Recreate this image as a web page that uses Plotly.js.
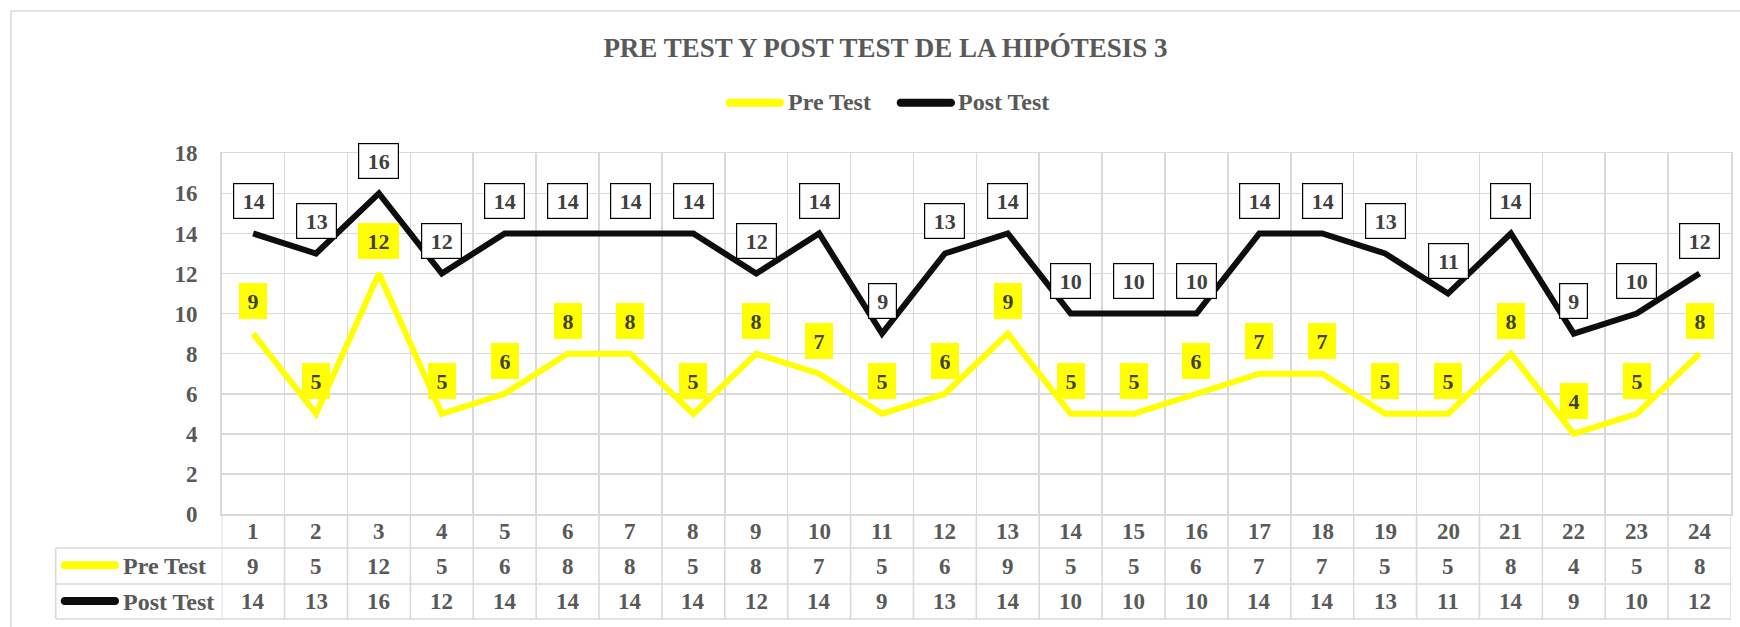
<!DOCTYPE html>
<html>
<head>
<meta charset="utf-8">
<script src="https://cdn.plot.ly/plotly-3.0.1.min.js"></script>
<style>html,body{margin:0;padding:0;background:#fff;}#chart{width:1740px;height:627px;}</style>
</head>
<body>
<div id="chart"></div>
<script>
// ---- data ----
const categories = [1,2,3,4,5,6,7,8,9,10,11,12,13,14,15,16,17,18,19,20,21,22,23,24];
const preTest  = [9,5,12,5,6,8,8,5,8,7,5,6,9,5,5,6,7,7,5,5,8,4,5,8];
const postTest = [14,13,16,12,14,14,14,14,12,14,9,13,14,10,10,10,14,14,13,11,14,9,10,12];
const seriesNames = ["Pre Test", "Post Test"];
const titleText = "PRE TEST Y POST TEST DE LA HIPÓTESIS 3";
const yTicks = [0,2,4,6,8,10,12,14,16,18];

// ---- geometry helpers (pixel -> paper) ----
const W = 1740, H = 627;
const px = x => x / W;
const py = y => 1 - y / H;
const plotL = 221.7, plotR = 1731, plotT = 153.3, plotB = 514;
const rowCatB = 548, rowPreB = 584, rowPostB = 619, tableL = 55.7;
const FONT = "Liberation Serif, Times New Roman, serif";
const GRID = "#d9d9d9";
const TXT = "#595959";
const YEL = "#FFFF00", BLK = "#0D0D0D";

function pill(x1, x2, y, t, color) {
  const r = t / 2, k = 1.3333 * r;
  const a = x1 + r, b = x2 - r;
  const P = (x, yy) => px(x) + "," + py(yy);
  const d = "M" + P(a, y - r) + " L" + P(b, y - r) +
    " C" + P(b + k, y - r) + " " + P(b + k, y + r) + " " + P(b, y + r) +
    " L" + P(a, y + r) +
    " C" + P(a - k, y + r) + " " + P(a - k, y - r) + " " + P(a, y - r) + " Z";
  return {type: "path", xref: "paper", yref: "paper", path: d, fillcolor: color, line: {width: 0}};
}

const traces = [
  {x: categories, y: preTest, name: seriesNames[0], type: "scatter", mode: "lines",
   line: {color: YEL, width: 6}, hoverinfo: "skip", showlegend: false},
  {x: categories, y: postTest, name: seriesNames[1], type: "scatter", mode: "lines",
   line: {color: BLK, width: 6}, hoverinfo: "skip", showlegend: false}
];

const shapes = [];
// outer chart border
shapes.push({type: "rect", xref: "paper", yref: "paper", x0: px(11), x1: 1.02, y0: py(11), y1: -0.02,
  line: {color: GRID, width: 1.5}, fillcolor: "rgba(0,0,0,0)"});
// table horizontal lines
[rowCatB, rowPreB, rowPostB].forEach(yy => shapes.push({type: "line", xref: "paper", yref: "paper",
  x0: px(tableL), x1: px(plotR), y0: py(yy), y1: py(yy), line: {color: GRID, width: 1.6}}));
// table left border
shapes.push({type: "line", xref: "paper", yref: "paper", x0: px(tableL), x1: px(tableL),
  y0: py(rowCatB), y1: py(rowPostB), line: {color: GRID, width: 1.6}});
// table vertical lines (category boundaries)
for (let i = 0; i <= categories.length; i++) {
  const xb = categories[0] - 0.5 + i;
  shapes.push({type: "line", xref: "x", yref: "paper", x0: xb, x1: xb,
    y0: py(plotB), y1: py(rowPostB), line: {color: GRID, width: 1.6}});
}
// legend (top) keys
shapes.push(pill(725.7, 784, 102.7, 8, YEL));
shapes.push(pill(896.7, 955, 102.7, 8, BLK));
// table legend keys
shapes.push(pill(60.7, 119, 565.3, 8, YEL));
shapes.push(pill(60.7, 119, 601, 8, BLK));

const annotations = [];
// legend texts
annotations.push({xref: "paper", yref: "paper", x: px(786), y: py(102.5), xanchor: "left", yanchor: "middle",
  text: seriesNames[0], showarrow: false, font: {family: FONT, size: 24, color: TXT, weight: "bold"}});
annotations.push({xref: "paper", yref: "paper", x: px(956), y: py(102.5), xanchor: "left", yanchor: "middle",
  text: seriesNames[1], showarrow: false, font: {family: FONT, size: 24, color: TXT, weight: "bold"}});
// table row labels
annotations.push({xref: "paper", yref: "paper", x: px(121), y: py(566), xanchor: "left", yanchor: "middle",
  text: seriesNames[0], showarrow: false, font: {family: FONT, size: 24, color: TXT, weight: "bold"}});
annotations.push({xref: "paper", yref: "paper", x: px(121), y: py(601.5), xanchor: "left", yanchor: "middle",
  text: seriesNames[1], showarrow: false, font: {family: FONT, size: 24, color: TXT, weight: "bold"}});
// table cells
categories.forEach((c, i) => {
  annotations.push({xref: "x", yref: "paper", x: c, y: py(531), yanchor: "middle", showarrow: false,
    text: String(c), font: {family: FONT, size: 23, color: TXT, weight: "bold"}});
  annotations.push({xref: "x", yref: "paper", x: c, y: py(566), yanchor: "middle", showarrow: false,
    text: String(preTest[i]), font: {family: FONT, size: 23, color: TXT, weight: "bold"}});
  annotations.push({xref: "x", yref: "paper", x: c, y: py(601.5), yanchor: "middle", showarrow: false,
    text: String(postTest[i]), font: {family: FONT, size: 23, color: TXT, weight: "bold"}});
});
// data labels
categories.forEach((c, i) => {
  const tp = String(preTest[i]);
  annotations.push({xref: "x", yref: "y", x: c, y: preTest[i], yshift: 32.5, yanchor: "middle",
    showarrow: false, text: tp, width: tp.length > 1 ? 35 : 22, height: 30,
    bgcolor: YEL, borderwidth: 0, borderpad: 3,
    font: {family: FONT, size: 22, color: "#404040", weight: "bold"}});
  const tq = String(postTest[i]);
  annotations.push({xref: "x", yref: "y", x: c, y: postTest[i], yshift: 32.5, yanchor: "middle",
    showarrow: false, text: tq, width: tq.length > 1 ? 35 : 23, height: 30,
    bgcolor: "#FFFFFF", bordercolor: "#000000", borderwidth: 1.2, borderpad: 2,
    font: {family: FONT, size: 22, color: "#404040", weight: "bold"}});
});

const layout = {
  width: W, height: H,
  margin: {l: 0, r: 0, t: 0, b: 0, pad: 0},
  paper_bgcolor: "#FFFFFF", plot_bgcolor: "#FFFFFF",
  showlegend: false,
  title: {text: titleText, x: px(885.5), xref: "paper", xanchor: "center", y: py(48), yref: "paper", yanchor: "middle",
    font: {family: FONT, size: 27, color: TXT, weight: "bold"}},
  xaxis: {domain: [px(plotL), px(plotR)], range: [categories[0] - 0.5, categories[categories.length - 1] + 0.5],
    tickmode: "linear", tick0: 0.5, dtick: 1, showticklabels: false, ticks: "",
    showgrid: true, gridcolor: GRID, gridwidth: 1.6, zeroline: false,
    showline: true, linecolor: GRID, linewidth: 1.6, mirror: true, fixedrange: true},
  yaxis: {domain: [py(plotB), py(plotT)], range: [0, 18], tickmode: "array", tickvals: yTicks,
    ticks: "", ticklabelstandoff: 18,
    tickfont: {family: FONT, size: 23, color: TXT, weight: "bold"},
    showgrid: true, gridcolor: GRID, gridwidth: 1.6, zeroline: false,
    showline: true, linecolor: GRID, linewidth: 1.6, mirror: true, fixedrange: true},
  shapes: shapes,
  annotations: annotations
};

Plotly.newPlot("chart", traces, layout, {displayModeBar: false, staticPlot: true});
</script>
</body>
</html>
